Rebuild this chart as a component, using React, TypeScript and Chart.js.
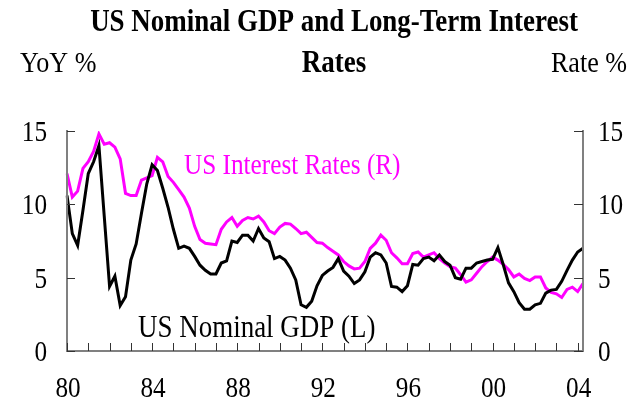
import React, { useEffect, useRef } from "react";
import { Chart, registerables } from "chart.js";

Chart.register(...registerables);

// Quarterly data, 1980Q1 .. 2004Q2
const years = [1980, 1981, 1982, 1983, 1984, 1985, 1986, 1987, 1988, 1989, 1990, 1991, 1992, 1993, 1994, 1995, 1996, 1997, 1998, 1999, 2000, 2001, 2002, 2003, 2004];
const quarterNames = ["Q1", "Q2", "Q3", "Q4"];
const quarterLabels: string[] = [];
years.forEach((yr) => quarterNames.forEach((q) => quarterLabels.push(`${yr}${q}`)));
quarterLabels.length = 98;

const gdpYoY = [
  10.6, 8.0, 7.2, 9.6, 12.1, 12.9, 14.0, 9.2, 4.4, 5.1,
  3.1, 3.7, 6.2, 7.3, 9.4, 11.4, 12.7, 12.3, 11.1, 9.8,
  8.3, 7.0, 7.15, 7.0, 6.45, 5.85, 5.5, 5.25, 5.25, 6.0,
  6.15, 7.5, 7.4, 7.9, 7.9, 7.5, 8.35, 7.7, 7.45, 6.3,
  6.45, 6.2, 5.65, 4.85, 3.15, 2.98, 3.4, 4.45, 5.15, 5.45,
  5.7, 6.3, 5.45, 5.1, 4.6, 4.85, 5.4, 6.4, 6.7, 6.55,
  6.0, 4.4, 4.35, 4.05, 4.45, 5.9, 5.85, 6.3, 6.4, 6.15,
  6.55, 6.1, 5.85, 5.0, 4.9, 5.65, 5.65, 6.0, 6.1, 6.2,
  6.25, 7.05, 5.9, 4.65, 4.05, 3.3, 2.85, 2.85, 3.15, 3.25,
  3.95, 4.15, 4.2, 4.75, 5.5, 6.2, 6.75, 7.0,
];

const interestRate = [
  12.1, 10.5, 10.9, 12.45, 12.9, 13.6, 14.8, 14.1, 14.2, 13.9,
  13.1, 10.75, 10.6, 10.6, 11.65, 11.8, 11.95, 13.2, 12.9, 11.9,
  11.5, 11.0, 10.5, 9.75, 8.5, 7.6, 7.35, 7.3, 7.25, 8.3,
  8.8, 9.1, 8.5, 8.9, 9.1, 9.0, 9.2, 8.8, 8.2, 8.0,
  8.45, 8.7, 8.65, 8.35, 8.0, 8.1, 7.75, 7.4, 7.35, 7.05,
  6.8, 6.55, 6.1, 5.8, 5.6, 5.65, 6.1, 7.0, 7.35, 7.9,
  7.55, 6.7, 6.35, 5.95, 5.95, 6.65, 6.75, 6.4, 6.55, 6.7,
  6.3, 6.0, 5.75, 5.65, 5.2, 4.7, 4.85, 5.3, 5.75, 6.1,
  6.4, 6.2, 5.9, 5.55, 5.05, 5.25, 4.95, 4.8, 5.05, 5.05,
  4.3, 4.0, 3.9, 3.65, 4.2, 4.35, 4.05, 4.6,
];

const xTickLabels = ["80", "84", "88", "92", "96", "00", "04"];
const yTickValues = [0, 5, 10, 15];
const titleLines = ["US Nominal GDP and Long-Term Interest", "Rates"];
const leftAxisTitle = "YoY %";
const rightAxisTitle = "Rate %";
const gdpLabel = "US Nominal GDP (L)";
const rateLabel = "US Interest Rates (R)";

const SERIF = '"Liberation Serif", "Times New Roman", serif';
const SX = 0.87;

function drawText(
  ctx: CanvasRenderingContext2D,
  s: string,
  x: number,
  y: number,
  align: "left" | "center" | "right",
  font: string,
  color: string
) {
  ctx.save();
  ctx.font = font;
  ctx.fillStyle = color;
  ctx.textBaseline = "alphabetic";
  ctx.textAlign = "left";
  const w = ctx.measureText(s).width * SX;
  const left = align === "center" ? x - w / 2 : align === "right" ? x - w : x;
  ctx.translate(left, y);
  ctx.scale(SX, 1);
  ctx.fillText(s, 0, 0);
  ctx.restore();
}

const decorPlugin = {
  id: "decor",
  afterDraw(chart: any) {
    const ctx: CanvasRenderingContext2D = chart.ctx;
    const xs = chart.scales.x;
    const yl = chart.scales.y;
    const yr = chart.scales.y1;
    const { left, right } = chart.chartArea;
    const y0 = yl.getPixelForValue(0);
    const yTop = yl.getPixelForValue(15);

    // axis lines
    ctx.save();
    ctx.strokeStyle = "#808080";
    ctx.lineWidth = 2;
    ctx.beginPath();
    ctx.moveTo(left, yTop - 1);
    ctx.lineTo(left, y0);
    ctx.lineTo(right, y0);
    ctx.lineTo(right, yTop - 1);
    ctx.stroke();

    // ticks
    ctx.strokeStyle = "#333";
    ctx.lineWidth = 1;
    ctx.beginPath();
    yTickValues.forEach((v) => {
      const py = Math.round(yl.getPixelForValue(v)) + 0.5;
      ctx.moveTo(left, py);
      ctx.lineTo(left + 8, py);
      const pr = Math.round(yr.getPixelForValue(v)) + 0.5;
      ctx.moveTo(right, pr);
      ctx.lineTo(right - 9, pr);
    });
    for (let i = 0; i < quarterLabels.length; i += 4) {
      const px = Math.round(xs.getPixelForValue(i)) + 0.5;
      ctx.moveTo(px, y0);
      ctx.lineTo(px, y0 - 8);
    }
    ctx.stroke();
    ctx.restore();

    const tickFont = `29px ${SERIF}`;
    yTickValues.forEach((v) => {
      const py = yl.getPixelForValue(v);
      drawText(ctx, String(v), left - 20, py + 10, "right", tickFont, "#000");
      const pr = yr.getPixelForValue(v);
      drawText(ctx, String(v), right + 15, pr + 10, "left", tickFont, "#000");
    });
    xTickLabels.forEach((s, k) => {
      const px = xs.getPixelForValue(k * 16);
      drawText(ctx, s, px + 1, 397, "center", tickFont, "#000");
    });

    // titles
    const titleFont = `bold 31px ${SERIF}`;
    const axisTitleFont = `30px ${SERIF}`;
    drawText(ctx, titleLines[0], 334, 31, "center", titleFont, "#000");
    drawText(ctx, titleLines[1], 334, 72, "center", titleFont, "#000");
    drawText(ctx, leftAxisTitle, 20, 72, "left", axisTitleFont, "#000");
    drawText(ctx, rightAxisTitle, 627, 72, "right", axisTitleFont, "#000");

    // series labels
    drawText(ctx, rateLabel, 184, 174, "left", tickFont, "#ff00ff");
    drawText(ctx, gdpLabel, 138, 337, "left", `31px ${SERIF}`, "#000");
  },
};

export default function App() {
  const ref = useRef<HTMLCanvasElement | null>(null);

  useEffect(() => {
    if (!ref.current) return;
    const hiddenAxis = {
      ticks: { display: false },
      grid: { display: false, drawTicks: false },
      border: { display: false },
    };
    const chart = new Chart(ref.current, {
      type: "line",
      data: {
        labels: quarterLabels,
        datasets: [
          {
            label: gdpLabel,
            data: gdpYoY,
            borderColor: "#000000",
            borderWidth: 3,
            pointRadius: 0,
            tension: 0,
            yAxisID: "y",
          },
          {
            label: rateLabel,
            data: interestRate,
            borderColor: "#ff00ff",
            borderWidth: 3,
            pointRadius: 0,
            tension: 0,
            yAxisID: "y1",
          },
        ],
      },
      options: {
        responsive: false,
        animation: false,
        events: [],
        layout: { padding: { left: 67, right: 52, top: 131, bottom: 60 } },
        plugins: { legend: { display: false }, tooltip: { enabled: false }, title: { display: false } },
        scales: {
          x: {
            type: "category",
            offset: false,
            ...hiddenAxis,
            afterFit: (s: any) => { s.height = 0; },
          },
          y: {
            position: "left",
            min: 0,
            max: 15,
            ...hiddenAxis,
            afterFit: (s: any) => { s.width = 0; },
          },
          y1: {
            position: "right",
            min: 0,
            max: 15,
            ...hiddenAxis,
            afterFit: (s: any) => { s.width = 0; },
          },
        },
      } as any,
      plugins: [decorPlugin],
    });
    return () => chart.destroy();
  }, []);

  return (
    <div style={{ position: "fixed", left: 0, top: 0, width: 635, height: 411, background: "#fff" }}>
      <canvas ref={ref} width={635} height={411} style={{ width: 635, height: 411 }} />
    </div>
  );
}
